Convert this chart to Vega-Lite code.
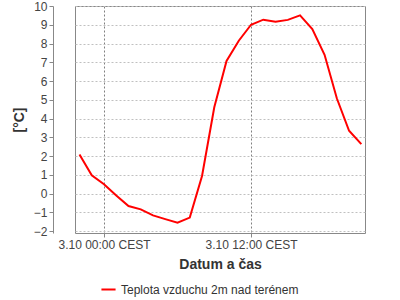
{
  "$schema": "https://vega.github.io/schema/vega-lite/v6.json",
  "autosize": "none",
  "width": 290,
  "height": 227,
  "padding": {"left": 75, "top": 6, "right": 35, "bottom": 67},
  "background": "white",
  "config": {
    "font": "Liberation Sans",
    "view": {"stroke": "#888888", "strokeWidth": 1},
    "axis": {"labelFont": "Liberation Sans", "titleFont": "Liberation Sans", "labelColor": "#444444", "titleColor": "#333333", "labelFontSize": 12, "titleFontSize": 14, "titleFontWeight": "bold", "tickColor": "#888888", "domainColor": "#888888"}
  },
  "data": {"values": [
    {"t": "2021-10-02T22:00:00Z", "v": 2.08},
    {"t": "2021-10-02T23:00:00Z", "v": 0.98},
    {"t": "2021-10-03T00:00:00Z", "v": 0.5},
    {"t": "2021-10-03T01:00:00Z", "v": -0.1},
    {"t": "2021-10-03T02:00:00Z", "v": -0.66},
    {"t": "2021-10-03T03:00:00Z", "v": -0.84},
    {"t": "2021-10-03T04:00:00Z", "v": -1.16},
    {"t": "2021-10-03T05:00:00Z", "v": -1.36},
    {"t": "2021-10-03T06:00:00Z", "v": -1.55},
    {"t": "2021-10-03T07:00:00Z", "v": -1.28},
    {"t": "2021-10-03T08:00:00Z", "v": 0.94},
    {"t": "2021-10-03T09:00:00Z", "v": 4.6},
    {"t": "2021-10-03T10:00:00Z", "v": 7.07},
    {"t": "2021-10-03T11:00:00Z", "v": 8.15},
    {"t": "2021-10-03T12:00:00Z", "v": 9.0},
    {"t": "2021-10-03T13:00:00Z", "v": 9.27},
    {"t": "2021-10-03T14:00:00Z", "v": 9.16},
    {"t": "2021-10-03T15:00:00Z", "v": 9.26},
    {"t": "2021-10-03T16:00:00Z", "v": 9.5},
    {"t": "2021-10-03T17:00:00Z", "v": 8.77},
    {"t": "2021-10-03T18:00:00Z", "v": 7.4},
    {"t": "2021-10-03T19:00:00Z", "v": 5.08},
    {"t": "2021-10-03T20:00:00Z", "v": 3.35},
    {"t": "2021-10-03T21:00:00Z", "v": 2.64}
  ]},
  "transform": [{"calculate": "'Teplota vzduchu 2m nad terénem'", "as": "s"}],
  "mark": {"type": "line", "strokeWidth": 2, "clip": true},
  "encoding": {
    "x": {
      "field": "t", "type": "temporal",
      "scale": {"type": "utc", "domain": [
        {"year": 2021, "month": 10, "date": 2, "hours": 21, "minutes": 38, "utc": true},
        {"year": 2021, "month": 10, "date": 3, "hours": 21, "minutes": 18, "utc": true}
      ]},
      "axis": {
        "title": "Datum a čas",
        "values": [
          {"year": 2021, "month": 10, "date": 3, "hours": 0, "utc": true},
          {"year": 2021, "month": 10, "date": 3, "hours": 12, "utc": true}
        ],
        "labelExpr": "utcFormat(datum.value, '%-d.%m %H:%M') + ' CEST'",
        "domain": false,
        "tickSize": 4,
        "labelPadding": 2,
        "titlePadding": 7,
        "grid": true,
        "gridColor": "#808080",
        "gridDash": [2, 2],
        "gridWidth": 1
      }
    },
    "y": {
      "field": "v", "type": "quantitative",
      "scale": {"domain": [-2.1, 10], "nice": false, "zero": false},
      "axis": {
        "title": "[°C]",
        "values": [-2, -1, 0, 1, 2, 3, 4, 5, 6, 7, 8, 9, 10],
        "offset": 22,
        "tickSize": 4,
        "labelPadding": 2,
        "titlePadding": 7,
        "grid": true,
        "gridColor": "#c0c0c0",
        "gridDash": [2, 2],
        "gridWidth": 1
      }
    },
    "color": {
      "field": "s", "type": "nominal",
      "scale": {"range": ["#ff0000"]},
      "legend": {"title": null, "orient": "none", "legendX": 25, "legendY": 275, "symbolType": "stroke", "symbolStrokeWidth": 2, "symbolSize": 200, "labelFontSize": 12, "labelLimit": 400, "labelColor": "#333333", "labelFont": "Liberation Sans"}
    }
  }
}
